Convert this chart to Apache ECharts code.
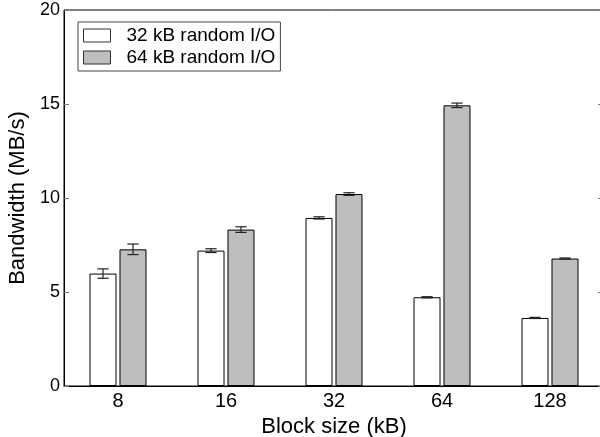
<!DOCTYPE html>
<html>
<head>
<meta charset="utf-8">
<script src="https://cdn.jsdelivr.net/npm/echarts@6/dist/echarts.min.js"></script>
<style>
  html, body { margin: 0; padding: 0; background: #fff; }
  #chart { width: 600px; height: 437px; }
</style>
</head>
<body>
<div id="chart"></div>
<script>
const blockSizes = ['8', '16', '32', '64', '128']
const random32 = [5.98, 7.2, 8.94, 4.72, 3.62]
const random32Err = [0.25, 0.1, 0.06, 0.03, 0.03]
const random64 = [7.27, 8.32, 10.21, 14.93, 6.78]
const random64Err = [0.28, 0.15, 0.07, 0.12, 0.03]
const yTicks = [0, 5, 10, 15, 20]

const font = 'Liberation Sans, Arial, Helvetica, sans-serif'

// error bar drawn around the bar centre; offset is a fraction of the band
function errorSeries(values, errs, offset) {
  return {
    type: 'custom',
    name: 'err' + offset,
    z: 5,
    data: values.map((v, i) => [i, v, errs[i]]),
    renderItem(params, api) {
      const i = api.value(0)
      const v = api.value(1)
      const e = api.value(2)
      const band = api.size([1, 0])[0]
      const hi = api.coord([i, v + e])
      const lo = api.coord([i, v - e])
      const x = hi[0] + offset * band
      const half = band * 0.052
      const style = { stroke: '#222', lineWidth: 1.2 }
      return {
        type: 'group',
        children: [
          { type: 'line', shape: { x1: x, y1: hi[1], x2: x, y2: lo[1] }, style },
          { type: 'line', shape: { x1: x - half, y1: hi[1], x2: x + half, y2: hi[1] }, style },
          { type: 'line', shape: { x1: x - half, y1: lo[1], x2: x + half, y2: lo[1] }, style }
        ]
      }
    }
  }
}

const chart = echarts.init(document.getElementById('chart'))
chart.setOption({
  animation: false,
  textStyle: { fontFamily: font },
  grid: {
    left: 64, top: 10, width: 540, height: 376,
    outerBoundsMode: 'none',
    containLabel: false,
    show: true, borderColor: '#000', borderWidth: 1
  },
  legend: {
    data: ['32 kB random I/O', '64 kB random I/O'],
    left: 78, top: 22,
    orient: 'vertical',
    icon: 'rect',
    itemWidth: 27, itemHeight: 13,
    itemGap: 3,
    padding: [4, 5, 4, 5],
    borderColor: '#444', borderWidth: 1,
    backgroundColor: '#fff',
    itemStyle: { borderColor: '#333', borderWidth: 1 },
    textStyle: { fontSize: 19, color: '#000', fontFamily: font, padding: [0, 0, 0, 11], lineHeight: 17 }
  },
  xAxis: {
    type: 'category',
    data: blockSizes,
    name: 'Block size (kB)',
    nameLocation: 'middle',
    nameGap: 16,
    nameTextStyle: { fontSize: 22, color: '#000', fontFamily: font },
    axisLine: { lineStyle: { color: '#000', width: 1 } },
    axisTick: { show: false },
    axisLabel: { fontSize: 20, color: '#000', margin: 5, fontFamily: font }
  },
  yAxis: [
    {
      type: 'value',
      min: yTicks[0], max: yTicks[yTicks.length - 1], interval: 5,
      name: 'Bandwidth (MB/s)',
      nameLocation: 'middle',
      nameGap: 31,
      nameTextStyle: { fontSize: 22, color: '#000', fontFamily: font },
      axisLine: { show: true, lineStyle: { color: '#000', width: 1 } },
      axisTick: { show: true, inside: true, length: 5, lineStyle: { color: '#777' } },
      axisLabel: { fontSize: 18, color: '#000', margin: 4, fontFamily: font },
      splitLine: { show: false }
    },
    {
      type: 'value',
      position: 'right',
      min: yTicks[0], max: yTicks[yTicks.length - 1], interval: 5,
      axisLine: { show: true, lineStyle: { color: '#000' } },
      axisTick: { show: true, inside: true, length: 6, lineStyle: { color: '#777' } },
      axisLabel: { show: false },
      splitLine: { show: false }
    }
  ],
  series: [
    {
      name: '32 kB random I/O',
      type: 'bar',
      data: random32,
      barWidth: '25%',
      barGap: '11%',
      itemStyle: { color: '#ffffff', borderColor: '#000', borderWidth: 1 }
    },
    {
      name: '64 kB random I/O',
      type: 'bar',
      data: random64,
      barWidth: '25%',
      barGap: '11%',
      itemStyle: { color: '#bebebe', borderColor: '#000', borderWidth: 1 }
    },
    errorSeries(random32, random32Err, -15 / 108),
    errorSeries(random64, random64Err, 15 / 108)
  ]
})
</script>
</body>
</html>
